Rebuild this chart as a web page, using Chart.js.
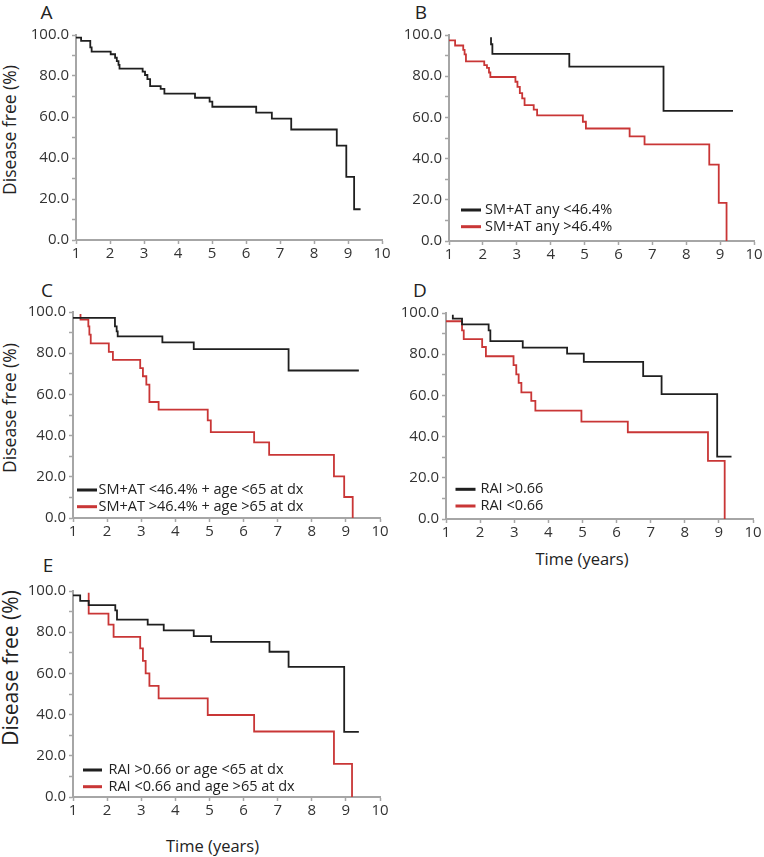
<!DOCTYPE html>
<html><head><meta charset="utf-8">
<script src="https://cdn.jsdelivr.net/npm/chart.js@4.4.1/dist/chart.umd.min.js"></script>
<style>
html,body{margin:0;padding:0;background:#fff;}
body{width:764px;height:857px;position:relative;overflow:hidden;font-family:"Open Sans",sans-serif;color:#222;}
canvas{position:absolute;}
.lbl{position:absolute;white-space:nowrap;line-height:1;transform:translate(-50%,-50%);}
.panel{font-size:19px;}
.ytitle{font-size:17.5px;transform:translate(-50%,-50%) rotate(-90deg);}
.ytitleE{font-size:21px;}
.xtitle{font-size:16.5px;}
</style></head><body>
<div class="lbl panel" style="left:46.5px;top:11.5px">A</div>
<div class="lbl panel" style="left:421px;top:11.5px">B</div>
<div class="lbl panel" style="left:47px;top:290px">C</div>
<div class="lbl panel" style="left:420px;top:290px">D</div>
<div class="lbl panel" style="left:48px;top:565px">E</div>
<div class="lbl ytitle" style="left:10px;top:130px">Disease free (%)</div>
<div class="lbl ytitle" style="left:10px;top:407.5px">Disease free (%)</div>
<div class="lbl ytitle ytitleE" style="left:10px;top:668px">Disease free (%)</div>
<div class="lbl xtitle" style="left:582px;top:558.5px">Time (years)</div>
<div class="lbl xtitle" style="left:212.5px;top:845.5px">Time (years)</div>
<script>
// ---------- DATA (time in years, disease free %) ----------
const xTicks = [1, 2, 3, 4, 5, 6, 7, 8, 9, 10];
const yTicks = [0, 20, 40, 60, 80, 100];

// Panel A – whole cohort
const timeA = [1.0, 1.15, 1.42, 1.46, 2.02, 2.15, 2.2, 2.25, 2.28, 2.96, 3.03, 3.1, 3.18, 3.49, 3.6, 4.5, 4.93, 5.01, 6.3, 6.76, 7.33, 8.67, 8.95, 9.18, 9.37];
const survA = [98.7, 97.1, 94.0, 91.9, 90.6, 88.9, 87.3, 85.4, 83.6, 82.1, 80.5, 78.5, 75.1, 73.7, 71.4, 69.4, 67.5, 65.0, 62.1, 59.2, 53.9, 46.0, 30.8, 15.0, 15.0];

// Panel B
const labelB = ['SM+AT any <46.4%', 'SM+AT any >46.4%'];
const timeB1 = [2.24, 2.24, 2.28, 4.55, 7.33, 9.38];
const survB1 = [98.9, 95.5, 90.8, 84.6, 63.2, 63.2];
const timeB2 = [1.0, 1.18, 1.42, 1.46, 1.5, 2.04, 2.12, 2.18, 2.22, 2.96, 3.02, 3.09, 3.16, 3.23, 3.5, 3.6, 4.95, 5.04, 6.33, 6.77, 8.68, 8.96, 9.19];
const survB2 = [97.4, 94.9, 92.8, 90.6, 87.2, 85.4, 84.0, 81.8, 79.6, 77.3, 74.8, 71.8, 69.2, 66.0, 63.8, 61.0, 57.9, 54.6, 50.8, 46.9, 37.1, 18.5, 0];

// Panel C
const labelC = ['SM+AT <46.4% + age <65 at dx', 'SM+AT >46.4% + age >65 at dx'];
const timeC1 = [1.0, 2.23, 2.28, 2.31, 3.62, 4.54, 7.32, 9.38];
const survC1 = [97.1, 93.0, 90.6, 88.2, 85.3, 82.0, 71.6, 71.6];
const timeC2 = [1.22, 1.22, 1.45, 1.48, 1.52, 2.05, 2.17, 2.97, 3.05, 3.15, 3.24, 3.51, 4.95, 5.04, 6.31, 6.75, 8.65, 8.95, 9.2];
const survC2 = [99.0, 96.3, 93.0, 89.0, 84.8, 80.6, 76.8, 72.8, 68.8, 64.7, 56.3, 52.6, 47.4, 41.7, 36.7, 30.6, 20.2, 10.2, 0];

// Panel D
const labelD = ['RAI >0.66', 'RAI <0.66'];
const timeD1 = [1.2, 1.2, 1.47, 2.25, 2.3, 3.25, 4.55, 5.04, 6.78, 7.32, 8.95, 9.37];
const survD1 = [99.2, 97.3, 94.5, 91.6, 86.3, 83.2, 80.3, 76.3, 69.4, 60.6, 30.3, 30.3];
const timeD2 = [1.0, 1.47, 1.52, 2.06, 2.17, 2.98, 3.06, 3.13, 3.21, 3.5, 3.62, 4.97, 6.33, 8.68, 9.17];
const survD2 = [96.0, 91.6, 87.3, 83.5, 79.0, 74.7, 70.2, 66.1, 61.5, 57.3, 52.6, 47.3, 42.1, 28.2, 0];

// Panel E
const labelE = ['RAI >0.66 or age <65 at dx', 'RAI <0.66 and age >65 at dx'];
const timeE1 = [1.0, 1.21, 1.46, 2.24, 2.29, 3.19, 3.66, 4.54, 5.05, 6.76, 7.32, 8.95, 9.38];
const survE1 = [97.9, 95.2, 93.1, 90.6, 86.1, 83.7, 80.9, 78.1, 75.3, 70.5, 63.2, 31.6, 31.6];
const timeE2 = [1.46, 1.46, 2.04, 2.19, 2.97, 3.05, 3.13, 3.24, 3.51, 4.95, 6.31, 8.65, 9.18];
const survE2 = [99.2, 89.0, 83.7, 77.7, 72.1, 66.1, 60.0, 53.9, 47.9, 39.8, 31.8, 16.1, 0];

// ---------- STYLE ----------
const BLACK = '#1f1f1f', RED = '#c93636', AXIS = '#a6a6a6', TICKTXT = '#333333';
const FONT = '"Open Sans", sans-serif';

const pts = (t, s) => t.map((x, i) => ({x: x, y: s[i]}));
const series = (label, t, s, color) => ({
  label: label, data: pts(t, s), borderColor: color, backgroundColor: color,
  borderWidth: 1.8, stepped: 'before', pointRadius: 0, fill: false
});

const kmLegend = {
  id: 'kmLegend',
  afterDatasetsDraw(chart, args, o) {
    if (!o || !o.show) return;
    const ctx = chart.ctx, a = chart.chartArea;
    ctx.save();
    ctx.font = o.fontSize + 'px ' + FONT;
    ctx.textBaseline = 'middle';
    ctx.textAlign = 'left';
    chart.data.datasets.forEach((ds, i) => {
      const y = a.bottom + (i === 0 ? o.row0 : o.row1);
      ctx.fillStyle = ds.borderColor;
      ctx.fillRect(a.left + o.lineX, y - 1.5, o.lineW, 3);
      ctx.fillStyle = '#222';
      ctx.fillText(ds.label, a.left + o.textX, y);
    });
    ctx.restore();
  }
};

function makePanel(box, datasets, leg) {
  const padL = 76, padT = 20, padR = 24, padB = 30;
  const w = box.R - box.L + padL + padR, h = box.B - box.T + padT + padB;
  const c = document.createElement('canvas');
  c.width = w; c.height = h;
  c.style.left = (box.L - padL) + 'px';
  c.style.top = (box.T - padT) + 'px';
  c.style.width = w + 'px'; c.style.height = h + 'px';
  document.body.appendChild(c);
  new Chart(c, {
    type: 'line',
    data: {datasets: datasets},
    options: {
      responsive: false, animation: false, devicePixelRatio: 1,
      layout: {padding: {left: 0, top: padT, right: padR, bottom: 0}},
      plugins: {legend: {display: false}, tooltip: {enabled: false}, kmLegend: leg || {show: false}},
      scales: {
        x: {
          type: 'linear', min: xTicks[0], max: xTicks[xTicks.length - 1],
          afterFit: s => { s.height = padB; },
          afterBuildTicks: s => { s.ticks = xTicks.map(v => ({value: v})); },
          ticks: {autoSkip: false, maxRotation: 0, padding: 1, color: TICKTXT, font: {family: FONT, size: 15},
                  callback: v => String(v)},
          grid: {drawOnChartArea: false, drawTicks: true, tickLength: 4, tickColor: AXIS, tickWidth: 1.5},
          border: {display: true, color: AXIS, width: 2}
        },
        y: {
          type: 'linear', min: yTicks[0], max: yTicks[yTicks.length - 1],
          afterFit: s => { s.width = padL; },
          ticks: {stepSize: 10, autoSkip: false, padding: 3, color: TICKTXT, font: {family: FONT, size: 15},
                  callback: v => (yTicks.includes(v) ? v.toFixed(1) : '')},
          grid: {drawOnChartArea: false, drawTicks: true, tickLength: 4, tickColor: AXIS, tickWidth: 1.5},
          border: {display: true, color: AXIS, width: 2}
        }
      }
    },
    plugins: [kmLegend]
  });
}

makePanel({L: 76, R: 382, T: 35, B: 240},
  [series('All', timeA, survA, BLACK)]);
makePanel({L: 449, R: 754, T: 35, B: 241},
  [series(labelB[0], timeB1, survB1, BLACK), series(labelB[1], timeB2, survB2, RED)],
  {show: true, fontSize: 14.5, row0: -31, row1: -14.3, lineX: 12, lineW: 20, textX: 36});
makePanel({L: 73, R: 380, T: 312, B: 518},
  [series(labelC[0], timeC1, survC1, BLACK), series(labelC[1], timeC2, survC2, RED)],
  {show: true, fontSize: 14.5, row0: -28, row1: -11.3, lineX: 4, lineW: 20, textX: 25.5});
makePanel({L: 446, R: 753, T: 313, B: 519},
  [series(labelD[0], timeD1, survD1, BLACK), series(labelD[1], timeD2, survD2, RED)],
  {show: true, fontSize: 14.5, row0: -29.7, row1: -13, lineX: 9.5, lineW: 20, textX: 34.5});
makePanel({L: 73, R: 380, T: 591, B: 797},
  [series(labelE[0], timeE1, survE1, BLACK), series(labelE[1], timeE2, survE2, RED)],
  {show: true, fontSize: 14.5, row0: -27, row1: -10.3, lineX: 10, lineW: 19, textX: 35.5});
</script>
</body></html>
